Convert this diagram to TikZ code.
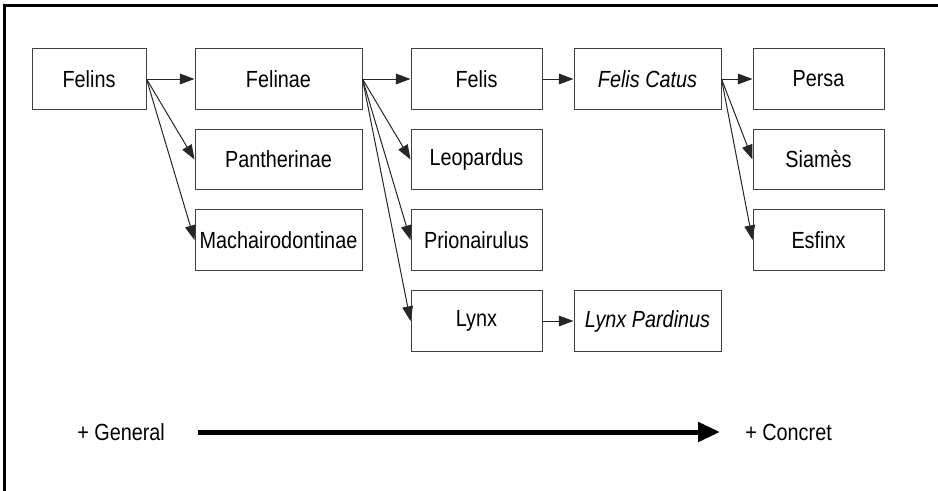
\documentclass[tikz,border=0pt]{standalone}
\usepackage{fontspec}
\setmainfont[FakeStretch=0.85]{Liberation Sans}
\usetikzlibrary{arrows.meta}
\begin{document}
\begin{tikzpicture}[x=0.75pt,y=-0.75pt,
  box/.style={draw=black!75, line width=0.75pt, rectangle, minimum height=45.5pt,
    inner sep=0pt, font=\fontsize{17.5}{20}\selectfont},
  wA/.style={minimum width=85.5pt},
  wB/.style={minimum width=125.25pt},
  wC/.style={minimum width=98.25pt},
  wD/.style={minimum width=110.25pt},
  link/.style={draw=black!85, line width=0.75pt, -{Triangle[length=11pt,width=8pt]}},
  lbl/.style={inner sep=0pt, font=\fontsize{17.5}{20}\selectfont},
  scale arrow/.style={line width=3.75pt, -{Triangle[length=16.5pt,width=14.25pt]}}]
\useasboundingbox (0,0) rectangle (938,490);

% frame edges
\draw[line width=2.25pt] (4,492) -- (4,5) -- (940,5);

% taxonomy boxes
\node[box,wA] (felins) at (89,79) {Felins};
\node[box,wB] (felinae) at (278.5,79) {Felinae};
\node[box,wB] (pantherinae) at (278.5,159.5) {Pantherinae};
\node[box,wB] (machairodontinae) at (278.5,240) {Machairodontinae};
\node[box,wC] (felis) at (476.5,79) {Felis};
\node[box,wC] (leopardus) at (476.5,159.5) {Leopardus};
\node[box,wC] (prionairulus) at (476.5,240) {Prionairulus};
\node[box,wC] (lynx) at (476.5,321) {Lynx};
\node[box,wD] (catus) at (647.5,79) {\itshape Felis Catus};
\node[box,wD] (pardinus) at (647.5,321) {\itshape Lynx Pardinus};
\node[box,wC] (persa) at (818.5,79) {Persa};
\node[box,wC] (siames) at (818.5,159.5) {Siamès};
\node[box,wC] (esfinx) at (818.5,240) {Esfinx};

% hierarchy links
\draw[link] (felins.east) -- (felinae.west);
\draw[link] (felins.east) -- (pantherinae.west);
\draw[link] (felins.east) -- (machairodontinae.west);
\draw[link] (felinae.east) -- (felis.west);
\draw[link] (felinae.east) -- (leopardus.west);
\draw[link] (felinae.east) -- (prionairulus.west);
\draw[link] (felinae.east) -- (lynx.west);
\draw[link] (felis.east) -- (catus.west);
\draw[link] (catus.east) -- (persa.west);
\draw[link] (catus.east) -- (siames.west);
\draw[link] (catus.east) -- (esfinx.west);
\draw[link] (lynx.east) -- (pardinus.west);

% general-to-concrete scale
\node[lbl, anchor=west] (general) at (77,432) {+ General};
\node[lbl, anchor=west] (concret) at (745,432) {+ Concret};
\coordinate (scaleL) at (198,432);
\coordinate (scaleR) at (720,432);
\draw[scale arrow] (scaleL) -- (scaleR);
\end{tikzpicture}
\end{document}
